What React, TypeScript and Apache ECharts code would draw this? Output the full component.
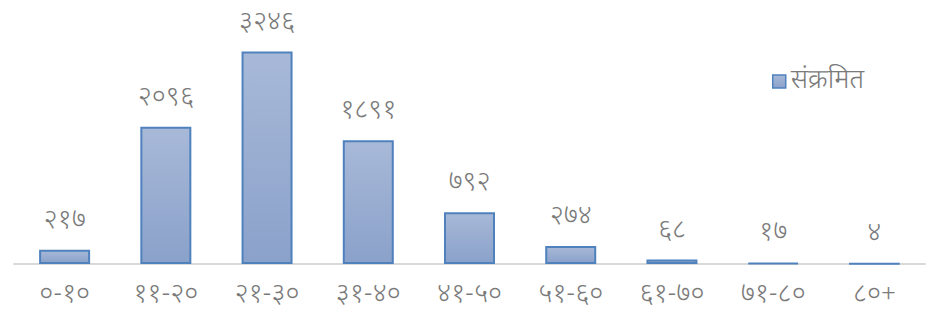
import React, { useEffect, useRef } from "react";
import * as echarts from "echarts";

const categories = ["०-१०", "११-२०", "२१-३०", "३१-४०", "४१-५०", "५१-६०", "६१-७०", "७१-८०", "८०+"];
const infected = [217, 2096, 3246, 1891, 792, 274, 68, 17, 4];
const seriesName = "संक्रमित";

const devDigits = ["०", "१", "२", "३", "४", "५", "६", "७", "८", "९"];
const toDev = (n: number) => String(n).replace(/[0-9]/g, (d) => devDigits[+d]);

const FONT = "'Noto Sans Devanagari', 'Noto Sans', 'Lohit Devanagari', Mangal, sans-serif";
const TEXT_COLOR = "#7a7a7a";

export default function App() {
  const ref = useRef<HTMLDivElement>(null);
  useEffect(() => {
    if (!ref.current) return;
    const chart = echarts.init(ref.current, null, { renderer: "svg" });
    chart.setOption({
      animation: false,
      backgroundColor: "#ffffff",
      legend: {
        show: true,
        right: 61,
        top: 63,
        icon: "rect",
        itemWidth: 13,
        itemHeight: 13,
        itemGap: 5,
        itemStyle: { borderColor: "#4f81bd", borderWidth: 1.5 },
        textStyle: { fontFamily: FONT, fontSize: 27, fontWeight: 300, color: TEXT_COLOR },
        data: [seriesName],
      },
      grid: { left: 14, right: 5, top: 35, bottom: 47, containLabel: false },
      xAxis: {
        type: "category",
        data: categories,
        axisLine: { lineStyle: { color: "#d9d9d9", width: 2 } },
        axisTick: { show: false },
        axisLabel: {
          fontFamily: FONT,
          fontSize: 27,
          lineHeight: 22,
          fontWeight: 300,
          color: TEXT_COLOR,
          margin: 20,
        },
      },
      yAxis: {
        type: "value",
        min: 0,
        max: 3500,
        show: false,
        splitLine: { show: false },
      },
      series: [
        {
          name: seriesName,
          type: "bar",
          data: infected,
          barWidth: 51,
          itemStyle: {
            color: new echarts.graphic.LinearGradient(0, 0, 0, 1, [
              { offset: 0, color: "#a8b9d8" },
              { offset: 1, color: "#8aa1ca" },
            ]),
            borderColor: "#4f81bd",
            borderWidth: 2,
          },
          label: {
            show: true,
            position: "top",
            distance: 15,
            fontFamily: FONT,
            fontSize: 27,
            fontWeight: 300,
            color: TEXT_COLOR,
            formatter: (p: any) => toDev(p.value),
          },
        },
      ],
    });
    return () => chart.dispose();
  }, []);
  return (
    <div
      ref={ref}
      style={{ position: "fixed", left: 0, top: 0, width: 930, height: 311, background: "#fff" }}
    />
  );
}
